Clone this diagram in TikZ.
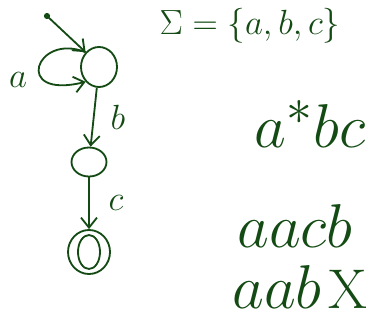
\documentclass[tikz,border=0pt]{standalone}
\usepackage{amsmath,amssymb}
\usepackage{graphicx}
\usepackage{tikz}
\usetikzlibrary{arrows.meta,positioning,shapes.geometric,calc}
\usepackage{xcolor}
\definecolor{ink}{RGB}{20,75,20}
\newcommand{\bigword}[1]{\scalebox{1.77}{#1}}

\begin{document}
\begin{tikzpicture}[every node/.style={text=ink, font=\fontsize{24.88}{27}\selectfont}]
\tikzset{state/.style={draw=ink, ellipse, line width=1.3pt, inner sep=0pt}}
\tikzset{arrow/.style={-{Straight Barb[length=2.5mm,width=4mm]}, draw=ink, line width=1.3pt}}
\useasboundingbox (0,0) rectangle (9.275,-8);
% automaton
\coordinate (init) at (1.175,-0.4);
\node[state, minimum width=0.9cm, minimum height=1.0cm] (q0) at (2.475,-1.675) {};
\node[state, minimum width=0.875cm, minimum height=0.725cm] (q1) at (2.225,-4.05) {};
\node[state, minimum width=1.05cm, minimum height=1.1cm] (q2) at (2.225,-6.3) {};
\node[state, minimum width=0.55cm, minimum height=0.85cm] (q2in) at (q2) {};
\fill[ink] (init) circle (2.2pt);
\draw[arrow] (init) -- (q0.north west);
\draw[arrow] (q0.north west) .. controls (0.9,-0.8) and (0.3,-2.5) .. (q0.south west);
\node (la) at (0.45,-2.0) {$a$};
\draw[arrow] (q0) -- node[right=8pt]{$b$} (q1);
\draw[arrow] (q1) -- node[right=10pt]{$c$} (q2);
% alphabet and words
\node (sigma) at (6.25,-0.65) {$\Sigma=\{a,b,c\}$};
\node (regex) at (7.75,-3.1) {\bigword{$a^{*}bc$}};
\node (acc) at (7.375,-5.65) {\bigword{$aacb$}};
\node[anchor=base west, inner sep=0pt] (rej) at (5.8,-7.72) {\bigword{$aab$}\hspace{5pt}\scalebox{1.6}{X}};
\end{tikzpicture}
\end{document}
